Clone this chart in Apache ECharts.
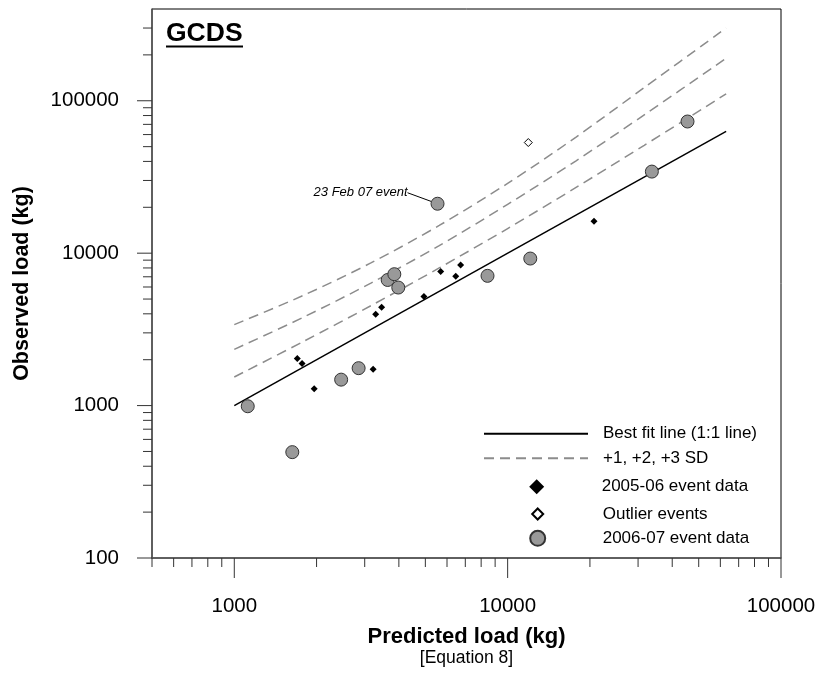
<!DOCTYPE html>
<html><head><meta charset="utf-8">
<script src="https://cdn.jsdelivr.net/npm/echarts@6/dist/echarts.min.js"></script>
<style>html,body{margin:0;padding:0;background:#fff}#c{width:819px;height:673px}</style>
</head><body><div id="c"></div>
<script>
// ---- data ----
const xMin = 500, xMax = 100000, yMin = 100, yMax = 400000;
const xMajorTicks = [1000, 10000, 100000];
const xMinorTicks = [500, 600, 700, 800, 900, 2000, 3000, 4000, 5000, 6000, 7000, 8000, 9000,
  20000, 30000, 40000, 50000, 60000, 70000, 80000, 90000];
const yMajorTicks = [100, 1000, 10000, 100000];
const yMinorTicks = [200, 300, 400, 500, 600, 700, 800, 900, 2000, 3000, 4000, 5000, 6000, 7000, 8000, 9000,
  20000, 30000, 40000, 50000, 60000, 70000, 80000, 90000, 200000, 300000];

const fitX = [1000, 63000];
const fitY = [1000, 63000];
const sdX  = [1000, 1780, 3160, 5620, 10000, 17800, 31600, 63000];
const sd1Y = [1540, 2620, 4520, 8000, 14500, 27000, 51000, 111000];
const sd2Y = [2340, 3780, 6360, 11200, 20900, 40400, 80800, 190000];
const sd3Y = [3400, 5260, 8630, 15200, 28700, 57800, 122000, 300000];

const ev0506X = [1700, 1770, 1960, 3220, 3290, 3460, 4940, 5690, 6460, 6730, 20700];
const ev0506Y = [2040, 1890, 1290, 1730, 3970, 4420, 5190, 7590, 7060, 8370, 16200];
const outlierX = [11900];
const outlierY = [53200];
const ev0607X = [1120, 1630, 2460, 2850, 3640, 3850, 3980, 5540, 8440, 12100, 33700, 45500];
const ev0607Y = [990, 495, 1480, 1760, 6670, 7280, 5950, 21100, 7100, 9220, 34300, 73100];
const annotIndex = 7;
const annotText = '23 Feb 07 event';

const names = {
  fit: 'Best fit line (1:1 line)',
  sd: '+1, +2, +3 SD',
  e0506: '2005-06 event data',
  out: 'Outlier events',
  e0607: '2006-07 event data'
};

// ---- chart ----
const FONT = 'Liberation Sans, Arial, Helvetica, sans-serif';
const zip = (a, b) => a.map((v, i) => [v, b[i]]);

function tickSeries(values, axis, len) {
  return {
    type: 'custom', silent: true, clip: false, z: 6,
    data: values.map(v => axis === 'x' ? [v, yMin] : [xMin, v]),
    renderItem: (params, api) => {
      const p = api.coord([api.value(0), api.value(1)]);
      return axis === 'x'
        ? { type: 'line', shape: { x1: p[0], y1: p[1], x2: p[0], y2: p[1] + len }, style: { stroke: '#333', lineWidth: 1 } }
        : { type: 'line', shape: { x1: p[0] - len, y1: p[1], x2: p[0], y2: p[1] }, style: { stroke: '#333', lineWidth: 1 } };
    }
  };
}

function legendFor(name, left, top, w, h, padLeft) {
  return {
    data: [name], left: left, top: top, padding: 0, itemGap: 0,
    itemWidth: w, itemHeight: h, selectedMode: false,
    textStyle: { fontSize: 17, color: '#000', fontFamily: FONT, padding: [0, 0, 0, padLeft] }
  };
}

const chart = echarts.init(document.getElementById('c'), null, { renderer: 'canvas' });
const lineLegendStyle = { color: 'rgba(0,0,0,0)', borderWidth: 0, opacity: 0 };

chart.setOption({
  animation: false,
  backgroundColor: '#fff',
  title: {
    text: 'GCDS', left: 166, top: 20.5, padding: 0,
    textStyle: { fontSize: 26.5, fontWeight: 'bold', color: '#000', fontFamily: FONT }
  },
  graphic: [{
    type: 'line', shape: { x1: 166, y1: 46.5, x2: 243, y2: 46.5 }, style: { stroke: '#000', lineWidth: 2 }
  }],
  grid: { left: 152, right: 38, top: 9, bottom: 115, show: true, borderColor: '#000', borderWidth: 1, backgroundColor: 'transparent' },
  legend: [
    Object.assign(legendFor(names.fit, 483, 425.3, 104, 14, 10), { itemStyle: lineLegendStyle }),
    Object.assign(legendFor(names.sd, 483, 449.7, 104, 14, 10), { itemStyle: lineLegendStyle }),
    legendFor(names.e0506, 529.2, 478.2, 15, 15, 52.5),
    legendFor(names.out, 531.2, 505.5, 11, 11, 54.5),
    legendFor(names.e0607, 529.2, 529.8, 15, 15, 52.5)
  ],
  xAxis: {
    type: 'log', logBase: 10, min: xMin, max: xMax,
    name: '{a|Predicted load (kg)}\n{b|[Equation 8]}',
    nameLocation: 'middle', nameGap: 67,
    nameTextStyle: {
      color: '#000',
      rich: {
        a: { fontSize: 22, fontWeight: 'bold', lineHeight: 23, fontFamily: FONT, color: '#000' },
        b: { fontSize: 17.5, lineHeight: 20, fontFamily: FONT, color: '#000' }
      }
    },
    axisLine: { show: true, lineStyle: { color: '#555', width: 1.5 } },
    axisTick: { show: false },
    splitLine: { show: false },
    axisLabel: {
      margin: 38, fontSize: 20.5, color: '#000', fontFamily: FONT,
      formatter: v => xMajorTicks.includes(Math.round(v)) ? String(Math.round(v)) : ''
    }
  },
  yAxis: {
    type: 'log', logBase: 10, min: yMin, max: yMax,
    name: 'Observed load (kg)', nameLocation: 'middle', nameGap: 119,
    nameTextStyle: { fontSize: 21.5, fontWeight: 'bold', color: '#000', fontFamily: FONT },
    axisLine: { show: true, lineStyle: { color: '#555', width: 1.5 } },
    axisTick: { show: false },
    splitLine: { show: false },
    axisLabel: {
      margin: 33, fontSize: 20.5, color: '#000', fontFamily: FONT,
      formatter: v => yMajorTicks.includes(Math.round(v)) ? String(Math.round(v)) : ''
    }
  },
  series: [
    tickSeries(xMajorTicks, 'x', 20),
    tickSeries(xMinorTicks, 'x', 9),
    tickSeries(yMajorTicks, 'y', 15),
    tickSeries(yMinorTicks, 'y', 9),
    {
      name: names.sd, type: 'line', data: zip(sdX, sd1Y), symbol: 'none', smooth: 0.3, z: 2,
      lineStyle: { color: '#8c8c8c', width: 1.5, type: [10, 6] }, itemStyle: { color: '#8c8c8c' }
    },
    {
      name: names.sd, type: 'line', data: zip(sdX, sd2Y), symbol: 'none', smooth: 0.3, z: 2,
      lineStyle: { color: '#8c8c8c', width: 1.5, type: [10, 6] }, itemStyle: { color: '#8c8c8c' }
    },
    {
      name: names.sd, type: 'line', data: zip(sdX, sd3Y), symbol: 'none', smooth: 0.3, z: 2,
      lineStyle: { color: '#8c8c8c', width: 1.5, type: [10, 6] }, itemStyle: { color: '#8c8c8c' }
    },
    {
      name: names.fit, type: 'line', data: zip(fitX, fitY), symbol: 'none', z: 3,
      lineStyle: { color: '#000', width: 1.5 }, itemStyle: { color: '#000' }
    },
    {
      name: names.e0506, type: 'scatter', data: zip(ev0506X, ev0506Y), symbol: 'diamond', symbolSize: 7, z: 4,
      itemStyle: { color: '#000', opacity: 1 }
    },
    {
      name: names.out, type: 'scatter', data: zip(outlierX, outlierY), symbol: 'diamond', symbolSize: 8, z: 4,
      itemStyle: { color: '#fff', borderColor: '#000', borderWidth: 1, opacity: 1 }
    },
    {
      name: names.e0607, type: 'scatter', symbol: 'circle', symbolSize: 13, z: 5,
      itemStyle: { color: '#999', borderColor: '#333', borderWidth: 1, opacity: 1 },
      data: zip(ev0607X, ev0607Y).map((p, i) => i === annotIndex ? {
        value: p,
        label: {
          show: true, formatter: annotText, position: 'left', distance: 5,
          fontSize: 13, fontStyle: 'italic', color: '#000', fontFamily: FONT
        },
        labelLine: { show: true, lineStyle: { color: '#000', width: 1 } }
      } : { value: p }),
      labelLayout: params => params.dataIndex === annotIndex ? { dx: -18, dy: -11 } : {}
    }
  ]
});
</script></body></html>
